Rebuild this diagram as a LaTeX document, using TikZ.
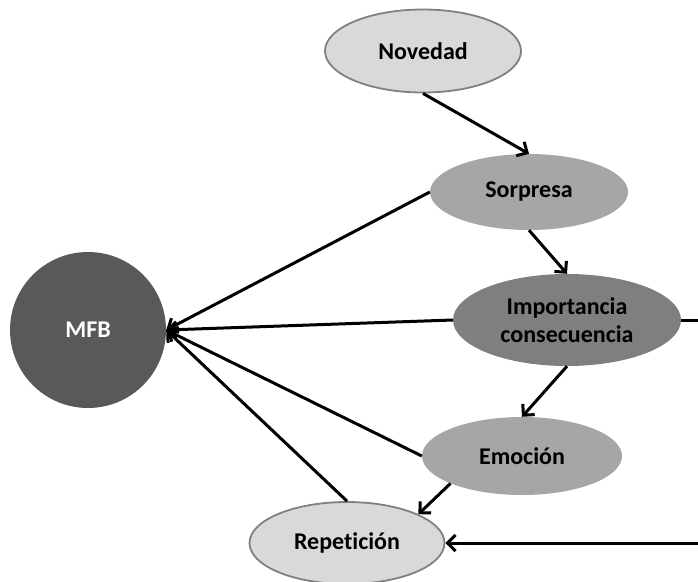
\documentclass[tikz,border=0pt]{standalone}
\usepackage{fontspec}
\setmainfont[Ligatures=CommonOff]{Carlito}
\usetikzlibrary{shapes.geometric,arrows.meta}
\definecolor{lightg}{HTML}{D9D9D9}
\definecolor{midg}{HTML}{A6A6A6}
\definecolor{darkg}{HTML}{7F7F7F}
\definecolor{deepg}{HTML}{595959}
\definecolor{edgeg}{HTML}{808080}
\begin{document}
\begin{tikzpicture}[x=1pt,y=-1pt,
  elli/.style={ellipse,inner sep=0pt,font=\fontsize{24}{28}\selectfont\bfseries,align=center},
  light/.style={elli,fill=lightg,draw=edgeg,line width=1.8pt},
  mid/.style={elli,fill=midg},
  dark/.style={elli,fill=darkg},
  conn/.style={line width=3pt,-{Straight Barb[length=8pt,width=16pt,line width=3pt]}},
  plain/.style={line width=3pt}]
\useasboundingbox (0,0) rectangle (698,581);
\node[circle,fill=deepg,minimum size=156pt,inner sep=0pt,text=white,font=\fontsize{24}{28}\selectfont\bfseries] (MFB) at (88,330) {MFB};
\node[light,minimum width=196pt,minimum height=83pt] (Nov) at (423,51) {Novedad};
\node[mid,minimum width=198pt,minimum height=76pt] (Sor) at (529,192) {Sorpresa};
\node[dark,minimum width=228pt,minimum height=92pt] (Imp) at (567,320) {Importancia\\consecuencia};
\node[mid,minimum width=200pt,minimum height=78pt] (Emo) at (522,456) {Emoción};
\node[light,minimum width=195pt,minimum height=82pt] (Rep) at (347,543) {Repetición};
\coordinate (R1) at (706,320);
\draw[conn] (Nov.south) -- (Sor.north);
\draw[conn] (Sor.south) -- (Imp.north);
\draw[conn] (Imp.south) -- (Emo.north);
\draw[conn] (Emo.-159) -- (Rep.22);
\draw[conn] (Sor.west) -- (MFB.east);
\draw[conn] (Imp.west) -- (MFB.east);
\draw[conn] (Emo.west) -- (MFB.east);
\draw[conn] (Rep.north) -- (MFB.east);
\draw[conn] (Imp.east) -- (R1) |- (Rep.east);
\end{tikzpicture}
\end{document}
